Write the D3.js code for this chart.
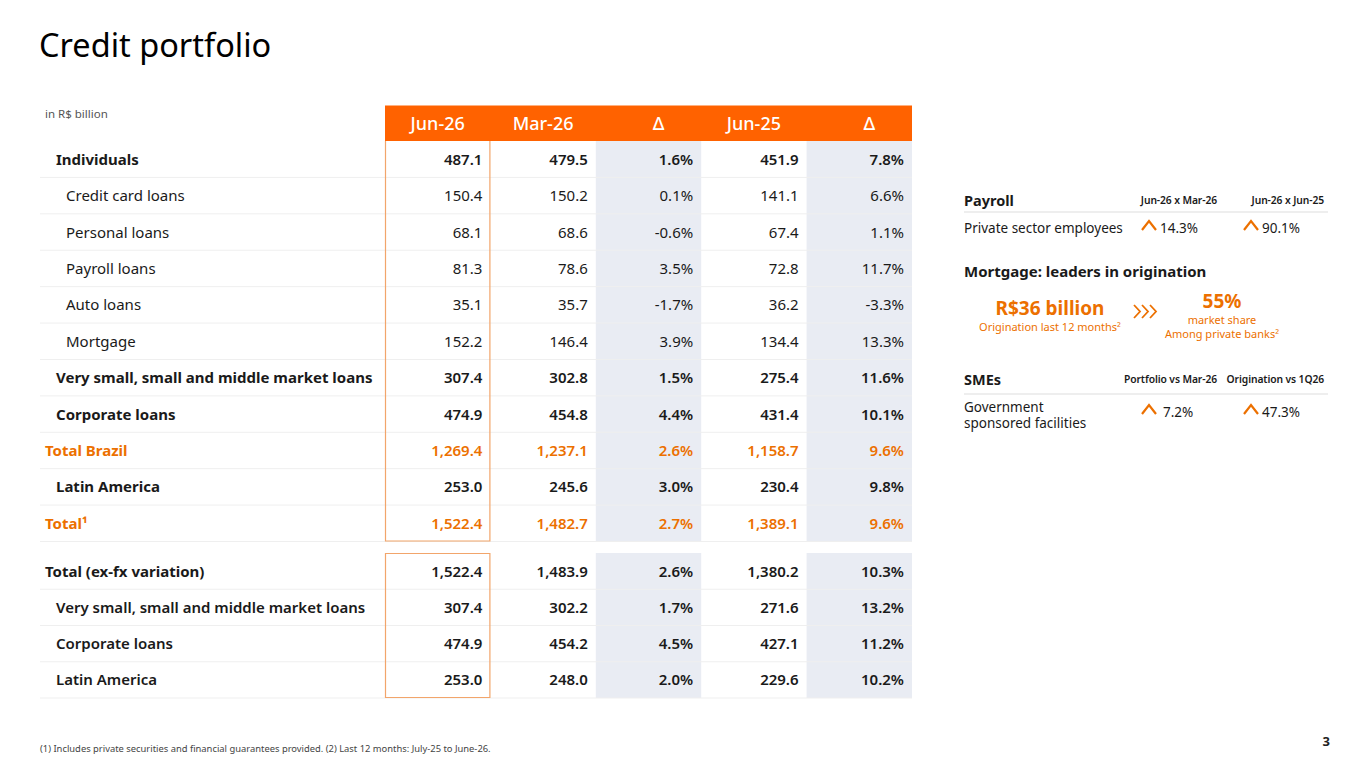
<!DOCTYPE html>
<html>
<head>
<meta charset="utf-8">
<script src="https://cdn.jsdelivr.net/npm/d3@7"></script>
<style>
  body { margin: 0; background: #fff; }
  svg { display: block; }
  text { font-family: "Noto Sans", sans-serif; }
</style>
</head>
<body>
<svg id="slide" width="1365" height="768"></svg>
<script>
// ---- data ----
const columns = ["Jun-26", "Mar-26", "Δ", "Jun-25", "Δ "];

const rowLabels = ["Individuals", "Credit card loans", "Personal loans", "Payroll loans", "Auto loans",
  "Mortgage", "Very small, small and middle market loans", "Corporate loans", "Total Brazil",
  "Latin America", "Total¹"];
const rowKinds = ["group", "item", "item", "item", "item", "item", "group", "group", "total", "group", "total"];
const jun26 = [487.1, 150.4, 68.1, 81.3, 35.1, 152.2, 307.4, 474.9, 1269.4, 253.0, 1522.4];
const mar26 = [479.5, 150.2, 68.6, 78.6, 35.7, 146.4, 302.8, 454.8, 1237.1, 245.6, 1482.7];
const deltaQ = [1.6, 0.1, -0.6, 3.5, -1.7, 3.9, 1.5, 4.4, 2.6, 3.0, 2.7];
const jun25 = [451.9, 141.1, 67.4, 72.8, 36.2, 134.4, 275.4, 431.4, 1158.7, 230.4, 1389.1];
const deltaY = [7.8, 6.6, 1.1, 11.7, -3.3, 13.3, 11.6, 10.1, 9.6, 9.8, 9.6];

const fxLabels = ["Total (ex-fx variation)", "Very small, small and middle market loans", "Corporate loans", "Latin America"];
const fxKinds = ["head", "plain", "plain", "plain"];
const fxJun26 = [1522.4, 307.4, 474.9, 253.0];
const fxMar26 = [1483.9, 302.2, 454.2, 248.0];
const fxDeltaQ = [2.6, 1.7, 4.5, 2.0];
const fxJun25 = [1380.2, 271.6, 427.1, 229.6];
const fxDeltaY = [10.3, 13.2, 11.2, 10.2];

const payrollCols = ["Jun-26 x Mar-26", "Jun-26 x Jun-25"];
const payrollValues = [14.3, 90.1];
const smeCols = ["Portfolio vs Mar-26", "Origination vs 1Q26"];
const smeValues = [7.2, 47.3];
const mortgageOrigination = 36;   // R$ billion, last 12 months
const mortgageShare = 55;         // % among private banks

// ---- setup ----
const svg = d3.select("#slide");
const orange = "#EC7000", headerOrange = "#FF6200", boxOrange = "#F2A56B";
const grayCol = "#E9ECF3", lineCol = "#EFEFEF", ink = "#1a1a1a";

const loc = d3.formatLocale({decimal: ".", thousands: ",", grouping: [3], currency: ["", ""], minus: "-"});
const fmtNum = loc.format(",.1f");
const fmtPct = v => loc.format(".1f")(v) + "%";

const x = d3.scaleBand().domain(columns).range([385, 912]);
const tableLeft = 40;

// title
svg.append("text").attr("x", 39).attr("y", 57)
  .attr("font-size", 32.5).attr("fill", "#000").text("Credit portfolio");

svg.append("text").attr("x", 45).attr("y", 118)
  .attr("font-size", 11.5).attr("fill", "#555").text("in R$ billion");

// header bar
svg.append("rect").attr("x", x.range()[0]).attr("y", 105.5)
  .attr("width", x.range()[1] - x.range()[0]).attr("height", 35.5).attr("fill", headerOrange);
svg.selectAll(".hdr").data(columns).enter().append("text")
  .attr("class", "hdr")
  .attr("x", d => x(d) + x.bandwidth() / 2 + (d.trim() === "Δ" ? 10 : 0))
  .attr("y", 130).attr("text-anchor", "middle")
  .attr("font-size", 18).attr("font-weight", 500).attr("fill", "#fff")
  .text(d => d.trim());

function drawBlock(top, bottom, labels, kinds, cols, closedBox) {
  const y = d3.scaleBand().domain(d3.range(labels.length)).range([top, bottom]);
  const g = svg.append("g");

  // gray delta columns
  [columns[2], columns[4]].forEach(c => {
    g.append("rect").attr("x", x(c)).attr("y", top)
      .attr("width", x.bandwidth()).attr("height", bottom - top).attr("fill", grayCol);
  });

  // row separators
  g.selectAll(".sep").data(labels).enter().append("line")
    .attr("x1", tableLeft).attr("x2", x.range()[1])
    .attr("y1", (d, i) => y(i) + y.bandwidth()).attr("y2", (d, i) => y(i) + y.bandwidth())
    .attr("stroke", lineCol).attr("stroke-width", 1);

  // Jun-26 box
  const bx = x(columns[0]) + 0.5, bw = x.bandwidth() - 1;
  const p = d3.path();
  if (closedBox) {
    p.rect(bx, top + 0.5, bw, bottom - top - 1);
  } else {
    p.moveTo(bx, top); p.lineTo(bx, bottom - 0.5); p.lineTo(bx + bw, bottom - 0.5); p.lineTo(bx + bw, top);
  }
  g.append("path").attr("d", p.toString()).attr("fill", "none").attr("stroke", boxOrange).attr("stroke-width", 1.2);

  const style = k => ({
    group: {indent: 56, weight: 700, color: ink},
    item: {indent: 66, weight: 400, color: ink},
    total: {indent: 45, weight: 700, color: orange},
    head: {indent: 45, weight: 700, color: ink},
    plain: {indent: 56, weight: 600, color: ink}
  })[k];

  const rows = g.selectAll(".row").data(labels.map((l, i) => ({label: l, kind: kinds[i], i})))
    .enter().append("g").attr("transform", d => `translate(0,${y(d.i) + y.bandwidth() / 2 + 5.5})`);

  rows.append("text").attr("x", d => style(d.kind).indent)
    .attr("font-size", 15)
    .attr("font-weight", d => style(d.kind).weight)
    .attr("fill", d => style(d.kind).color)
    .text(d => d.label);

  cols.forEach((vals, ci) => {
    rows.append("text")
      .attr("x", x(columns[ci]) + x.bandwidth() - 8)
      .attr("text-anchor", "end").attr("font-size", 15)
      .attr("font-weight", d => d.kind === "item" ? 400 : 600)
      .attr("fill", d => style(d.kind).color)
      .text(d => (ci === 2 || ci === 4) ? fmtPct(vals[d.i]) : fmtNum(vals[d.i]));
  });
}

drawBlock(141, 541.5, rowLabels, rowKinds, [jun26, mar26, deltaQ, jun25, deltaY], false);
drawBlock(553, 698, fxLabels, fxKinds, [fxJun26, fxMar26, fxDeltaQ, fxJun25, fxDeltaY], true);

// ---- right panel ----
const panelLeft = 964, panelRight = 1328;
const colEnd = d3.scalePoint().domain([0, 1]).range([1217, 1324]);
const valX = d3.scalePoint().domain([0, 1]).range([1160, 1262]);
const panelFont = "'Open Sans', sans-serif";
const chevron = d3.line()([[0, 9], [7, 0], [14, 9]]);

function upArrow(cx, baseline) {
  svg.append("path").attr("d", chevron)
    .attr("transform", `translate(${cx},${baseline - 11})`)
    .attr("fill", "none").attr("stroke", orange).attr("stroke-width", 2.2);
}

function panelSection(top, title, colLabels, values, rowLines, lineGap, valGap) {
  svg.append("text").attr("x", panelLeft).attr("y", top).attr("font-family", panelFont)
    .attr("font-size", 14.5).attr("font-weight", 700).attr("fill", ink).text(title);
  svg.selectAll(null).data(colLabels).enter().append("text")
    .attr("x", (d, i) => colEnd(i)).attr("y", top - 2).attr("text-anchor", "end")
    .attr("font-family", panelFont).attr("font-size", 10.3).attr("font-weight", 600)
    .attr("letter-spacing", -0.1).attr("fill", ink)
    .text(d => d);
  svg.append("line").attr("x1", panelLeft).attr("x2", panelRight)
    .attr("y1", top + lineGap).attr("y2", top + lineGap).attr("stroke", "#ddd");
  const rowY = top + valGap;
  const labelTop = rowY - (rowLines.length - 1) * 5;
  rowLines.forEach((l, i) => {
    svg.append("text").attr("x", panelLeft).attr("y", labelTop + i * 16).attr("font-family", panelFont)
      .attr("font-size", 13.5).attr("fill", ink).text(l);
  });
  values.forEach((v, i) => {
    upArrow(valX(i) - 18, rowY - 1);
    svg.append("text").attr("x", valX(i) + (v < 10 ? 3 : 0)).attr("y", rowY).attr("font-family", panelFont)
      .attr("font-size", 13.5).attr("fill", ink).text(fmtPct(v));
  });
}

panelSection(206, "Payroll", payrollCols, payrollValues, ["Private sector employees"], 6, 27);
panelSection(385, "SMEs", smeCols, smeValues, ["Government", "sponsored facilities"], 9, 32);

svg.append("text").attr("x", panelLeft).attr("y", 277).attr("font-family", panelFont)
  .attr("font-size", 15).attr("font-weight", 700).attr("fill", ink).text("Mortgage: leaders in origination");

svg.append("text").attr("x", 1050).attr("y", 315).attr("text-anchor", "middle").attr("font-family", panelFont)
  .attr("font-size", 19).attr("font-weight", 700).attr("fill", orange).text(`R$${mortgageOrigination} billion`);
svg.append("text").attr("x", 1050).attr("y", 331).attr("text-anchor", "middle").attr("font-family", panelFont)
  .attr("font-size", 11).attr("fill", orange).text("Origination last 12 months²");

[0, 1, 2].forEach(k => {
  svg.append("path").attr("d", d3.line()([[0, 0], [6, 6.5], [0, 13]]))
    .attr("transform", `translate(${1134 + k * 8},${305})`)
    .attr("fill", "none").attr("stroke", orange).attr("stroke-width", 1.8);
});

svg.append("text").attr("x", 1222).attr("y", 308).attr("text-anchor", "middle").attr("font-family", panelFont)
  .attr("font-size", 19).attr("font-weight", 700).attr("fill", orange).text(`${mortgageShare}%`);
svg.append("text").attr("x", 1222).attr("y", 324).attr("text-anchor", "middle").attr("font-family", panelFont)
  .attr("font-size", 11).attr("fill", orange).text("market share");
svg.append("text").attr("x", 1222).attr("y", 338).attr("text-anchor", "middle").attr("font-family", panelFont)
  .attr("font-size", 11).attr("fill", orange).text("Among private banks²");

// footer
svg.append("text").attr("x", 40).attr("y", 752).attr("font-size", 9.4).attr("fill", "#444")
  .text("(1) Includes private securities and financial guarantees provided. (2) Last 12 months: July-25 to June-26.");
svg.append("text").attr("x", 1330).attr("y", 746).attr("text-anchor", "end").attr("font-size", 13)
  .attr("font-weight", 700).attr("fill", "#222").text("3");
</script>
</body>
</html>
